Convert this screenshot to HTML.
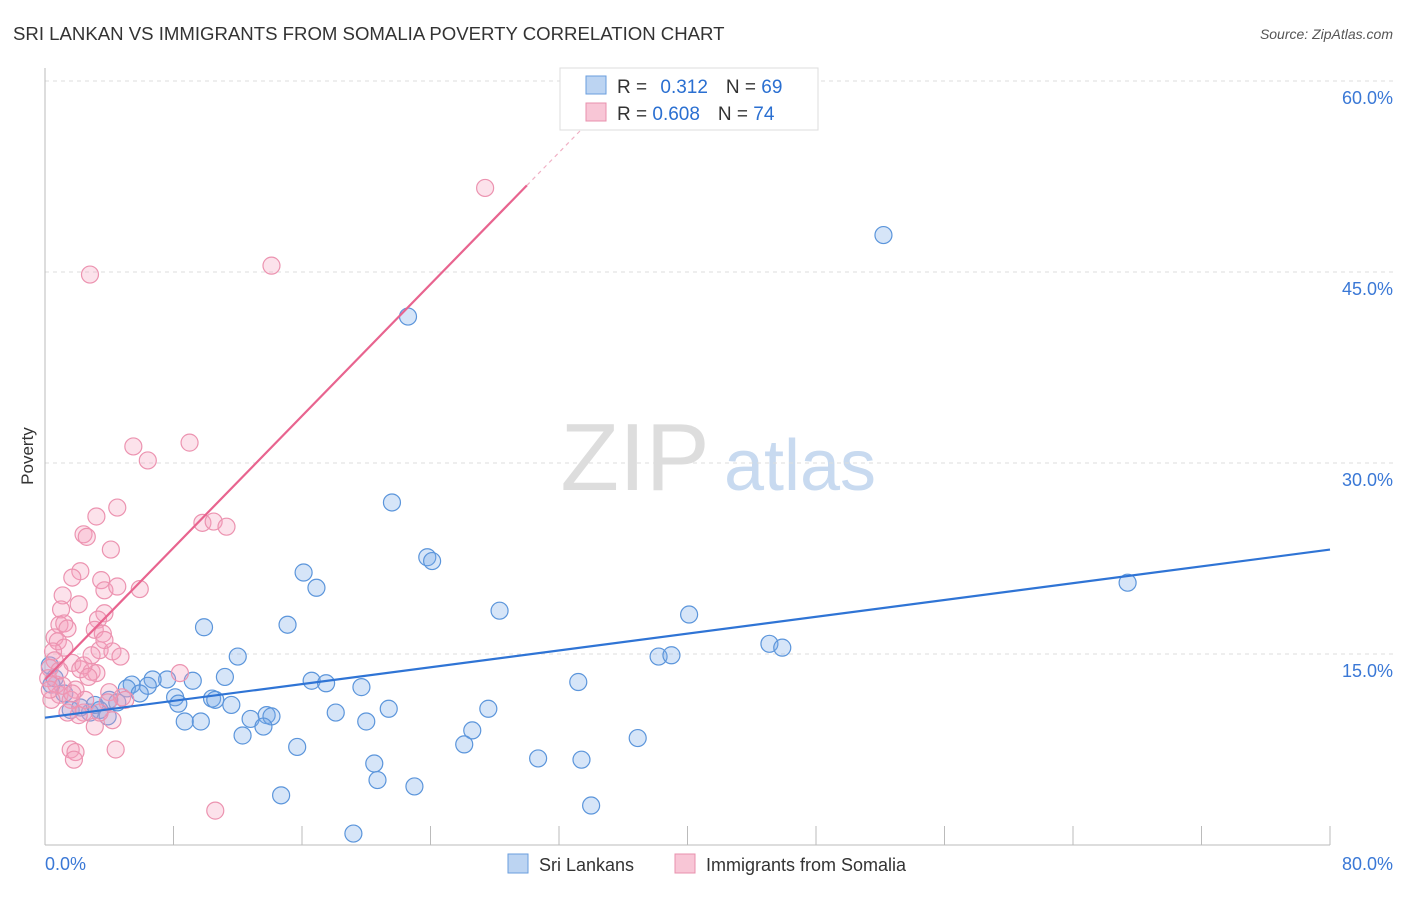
<!DOCTYPE html>
<html><head><meta charset="utf-8"><style>
body{margin:0;background:#fff;font-family:"Liberation Sans",sans-serif;}
svg text{font-family:"Liberation Sans",sans-serif;}
</style></head><body>
<svg id="chart" width="1406" height="892">
<text x="13" y="40" font-size="18.6" fill="#333">SRI LANKAN VS IMMIGRANTS FROM SOMALIA POVERTY CORRELATION CHART</text>
<text x="1393" y="39" font-size="14" fill="#555" font-style="italic" text-anchor="end">Source: ZipAtlas.com</text>
<text x="33" y="456" font-size="17" fill="#333" text-anchor="middle" transform="rotate(-90 33 456)">Poverty</text>
<g><text x="635" y="490" font-size="96" fill="#ddd" font-family="Liberation Serif" text-anchor="middle">ZIP</text><text x="800" y="490" font-size="72" fill="#c8daf0" text-anchor="middle">atlas</text></g>
<g id="grid"></g><g id="axes"></g><g id="pts"></g><g id="lines"></g>
<g>
<rect x="560" y="68" width="258" height="62" fill="#fff" stroke="#ddd"/>
<rect x="586" y="76" width="20" height="18" fill="#bcd4f2" stroke="#6a9ede"/>
<rect x="586" y="103" width="20" height="18" fill="#f8c6d6" stroke="#e890ad"/>
<text x="617" y="93" font-size="19" fill="#333">R = <tspan fill="#2a6fd1" dx="8">0.312</tspan><tspan dx="18" fill="#333">N = </tspan><tspan fill="#2a6fd1">69</tspan></text>
<text x="617" y="120" font-size="19" fill="#333">R = <tspan fill="#2a6fd1">0.608</tspan><tspan dx="18" fill="#333">N = </tspan><tspan fill="#2a6fd1">74</tspan></text>
</g>
<g>
<rect x="508" y="854" width="20" height="19" fill="#bcd4f2" stroke="#6a9ede"/>
<text x="539" y="871" font-size="18" fill="#333">Sri Lankans</text>
<rect x="675" y="854" width="20" height="19" fill="#f8c6d6" stroke="#e890ad"/>
<text x="706" y="871" font-size="18" fill="#333">Immigrants from Somalia</text>
</g>
</svg>
<script>
const yTicks=[15,30,45,60];
const yTickLabels=["15.0%","30.0%","45.0%","60.0%"];
const xTickLabels=["0.0%","80.0%"];
const blueX=[52.2,22.6,21.6,23.8,24.1,16.1,16.9,28.3,40.1,67.4,9.9,15.1,12.0,45.1,45.9,38.2,39.0,33.2,16.6,17.5,19.7,11.2,9.2,7.6,6.7,6.4,5.4,5.1,5.9,8.1,8.3,10.4,10.6,11.6,27.6,21.4,18.1,13.8,12.8,14.1,9.7,8.7,20.0,26.6,12.3,13.6,15.7,26.1,36.9,30.7,33.4,20.5,20.7,23.0,14.7,34.0,19.2,4.0,4.5,3.4,2.8,1.6,1.2,0.6,0.3,0.4,2.2,3.9,3.1];
const blueY=[47.9,41.5,26.9,22.6,22.3,21.4,20.2,18.4,18.1,20.6,17.1,17.3,14.8,15.8,15.5,14.8,14.9,12.8,12.9,12.7,12.4,13.2,12.9,13.0,13.0,12.5,12.6,12.3,11.9,11.6,11.1,11.5,11.4,11.0,10.7,10.7,10.4,10.2,9.9,10.1,9.7,9.7,9.7,9.0,8.6,9.3,7.7,7.9,8.4,6.8,6.7,6.4,5.1,4.6,3.9,3.1,0.9,11.4,11.2,10.6,10.4,10.6,11.9,13.1,14.1,12.6,10.8,10.1,11.0];
const pinkX=[27.4,2.8,14.1,5.5,9.0,6.4,3.2,4.5,2.4,2.6,4.1,2.2,1.7,9.8,10.5,11.3,3.5,3.7,5.9,4.5,1.1,2.1,1.0,3.7,0.9,1.2,1.4,3.3,3.1,3.6,0.6,0.8,1.2,3.4,4.2,4.7,1.7,2.2,2.9,3.2,0.5,0.6,0.3,8.4,2.4,2.7,1.9,4.0,4.8,0.7,0.9,1.6,3.9,4.2,2.4,2.1,3.1,1.6,1.9,1.8,4.4,10.6,0.4,0.2,1.1,1.4,5.0,3.4,2.5,1.7,2.9,3.7,0.9,0.3];
const pinkY=[51.6,44.8,45.5,31.3,31.6,30.2,25.8,26.5,24.4,24.2,23.2,21.5,21.0,25.3,25.4,25.0,20.8,20.0,20.1,20.3,19.6,18.9,18.5,18.2,17.3,17.4,17.0,17.7,16.9,16.6,16.3,16.0,15.5,15.3,15.2,14.8,14.3,13.8,13.6,13.5,15.2,14.5,13.9,13.5,14.1,13.2,12.2,12.0,11.6,12.6,11.8,11.4,11.2,9.8,10.4,10.2,9.3,7.5,7.3,6.7,7.5,2.7,11.4,13.1,12.5,10.4,11.4,10.4,11.4,11.9,14.9,16.1,13.7,12.2];
const blueTrend=[10.0,23.2]; // y at x=0 and x=80
const pinkTrend=[13.0,51.8]; // y at x=0 and x=30
const pinkTrendEnd=[30,33.5];
const X=v=>45+v*(1285/80), Y=v=>845-v*(764/60);
const NS="http://www.w3.org/2000/svg";
function mk(p,t,a){const e=document.createElementNS(NS,t);for(const k in a)e.setAttribute(k,a[k]);p.appendChild(e);return e;}
const grid=document.getElementById('grid'),axes=document.getElementById('axes'),pts=document.getElementById('pts'),lines=document.getElementById('lines');
yTicks.forEach((v,i)=>{
 const l=mk(grid,'line',{x1:45,x2:1393,y1:Y(v),y2:Y(v),stroke:'#ddd','stroke-dasharray':'4,4'});
 
 
 const t=mk(axes,'text',{x:1393,y:Y(v)+23,'font-size':18,fill:'#3a78d6','text-anchor':'end'});
 t.textContent=yTickLabels[i];
 
 
});
const al=mk(axes,'line',{x1:45,x2:45,y1:68,y2:845,stroke:'#bbb'});


const bl=mk(axes,'line',{x1:45,x2:1330,y1:845,y2:845,stroke:'#bbb'});


for(let i=0;i<=10;i++){const tk=mk(axes,'line',{x1:X(i*8),x2:X(i*8),y1:826,y2:845,stroke:'#bbb'});
 
 }
[[0,'start',45],[80,'end',1393]].forEach((d,i)=>{const t=mk(axes,'text',{x:d[2],y:870,'font-size':18,fill:'#3a78d6','text-anchor':d[1]});t.textContent=xTickLabels[i];
 
 });
blueX.forEach((x,i)=>{const c=mk(pts,'circle',{cx:X(x),cy:Y(blueY[i]),r:8.5,fill:'rgba(120,170,232,0.3)',stroke:'#5b95db','stroke-width':1.2});
 
 });
pinkX.forEach((x,i)=>{const c=mk(pts,'circle',{cx:X(x),cy:Y(pinkY[i]),r:8.5,fill:'rgba(244,160,188,0.3)',stroke:'#ec93b0','stroke-width':1.2});
 
 });
const b=mk(lines,'line',{x1:X(0),y1:Y(blueTrend[0]),x2:X(80),y2:Y(blueTrend[1]),stroke:'#2f74d5','stroke-width':2.2});


const slope=(pinkTrend[1]-pinkTrend[0])/30;
const p=mk(lines,'line',{x1:X(0),y1:Y(pinkTrend[0]),x2:X(pinkTrendEnd[0]),y2:Y(pinkTrend[1]),stroke:'#e8648f','stroke-width':2.2});


const pd=mk(lines,'line',{x1:X(pinkTrendEnd[0]),y1:Y(pinkTrend[1]),x2:X(pinkTrendEnd[1]),y2:Y(pinkTrend[0]+slope*pinkTrendEnd[1]),stroke:'#f0b0c4','stroke-width':1.2,'stroke-dasharray':'4,4'});


</script>
</body></html>
